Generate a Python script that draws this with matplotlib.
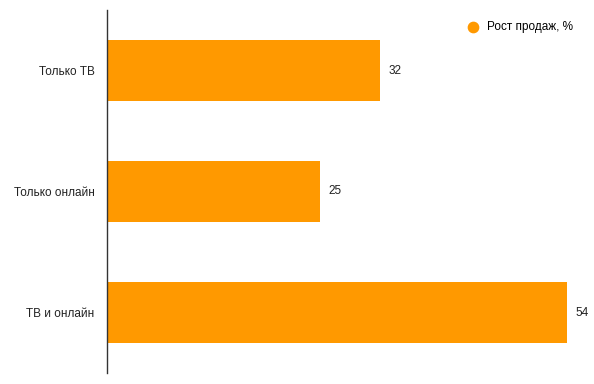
import matplotlib
matplotlib.use("Agg")
import matplotlib.pyplot as plt

categories = ["Только ТВ", "Только онлайн", "ТВ и онлайн"]
values = [32, 25, 54]
series_name = "Рост продаж, %"

plt.rcParams['font.family'] = ['Liberation Sans', 'DejaVu Sans']

fig = plt.figure(figsize=(5.94, 3.84), dpi=100)
ax = fig.add_axes([107/594, 11/384, (590-107)/594, 363/384])

color = "#FF9900"
ax.barh(categories, values, height=0.5, color=color)
ax.set_ylim(2.5, -0.5)
ax.set_xlim(0, (590-107)/8.52)

for i, v in enumerate(values):
    ax.text(v + 1.0, i, str(v), va="center", ha="left", fontsize=8.5, color="#222222")

for s in ["top", "right", "bottom"]:
    ax.spines[s].set_visible(False)
ax.spines["left"].set_color("#333333")
ax.spines["left"].set_linewidth(1)
ax.set_xticks([])
ax.tick_params(axis="y", length=0, pad=9, labelsize=8.5, labelcolor="#222222")

ax.scatter([], [], color=color, s=55, label=series_name)
ax.legend(loc="upper right", bbox_to_anchor=(1.0 - 9/483, 1.0 - 3/363), frameon=False,
          fontsize=8.5, handletextpad=0.2, borderaxespad=0.3)

fig.savefig("out.png", dpi=100)
